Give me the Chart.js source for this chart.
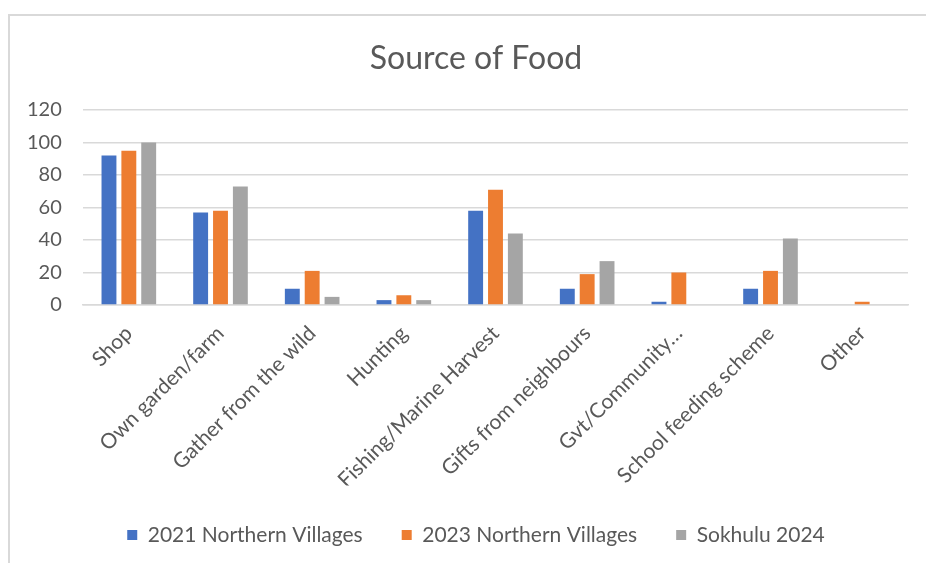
<!DOCTYPE html>
<html>
<head>
<meta charset="utf-8">
<script src="https://cdn.jsdelivr.net/npm/chart.js@4"></script>
<style>
  html, body { margin: 0; padding: 0; background: #fff; overflow: hidden; }
  #frame {
    position: absolute; left: 8px; top: 14px; width: 916px; height: 560px;
    border-left: 2px solid #d9d9d9; border-top: 2px solid #d9d9d9;
  }
  #myChart { display: block; }
</style>
</head>
<body>
<div id="frame"><canvas id="myChart" width="916" height="547"></canvas></div>
<script>
// categories and series
var categories = ["Shop", "Own garden/farm", "Gather from the wild", "Hunting",
    "Fishing/Marine Harvest", "Gifts from neighbours", "Gvt/Community\u2026",
    "School feeding scheme", "Other"];
var north2021 = [92, 57, 10, 3, 58, 10, 2, 10, 0];
var north2023 = [95, 58, 21, 6, 71, 19, 20, 21, 2];
var sokhulu2024 = [100, 73, 5, 3, 44, 27, 0, 41, 0];
var yTicks = [0, 20, 40, 60, 80, 100, 120];

var fontName = "Lato";
var textColor = "#595959";
var gridColor = "#d9d9d9";

Chart.defaults.font.family = fontName;
Chart.defaults.color = textColor;

// left padding only moves the centre of title and legend
var padLeft = 34;

var ctx = document.getElementById('myChart').getContext('2d');
var chart = new Chart(ctx, {
    type: 'bar',
    data: {
        labels: categories,
        datasets: [
            { label: "2021 Northern Villages", data: north2021, backgroundColor: '#4472C4' },
            { label: "2023 Northern Villages", data: north2023, backgroundColor: '#ED7D31' },
            { label: "Sokhulu 2024", data: sokhulu2024, backgroundColor: '#A5A5A5' }
        ]
    },
    options: {
        responsive: false,
        animation: false,
        categoryPercentage: 0.65,
        barPercentage: 0.75,
        layout: { padding: { left: padLeft, right: 18, top: 0, bottom: 7.5 } },
        plugins: {
            title: {
                display: true,
                text: "Source of Food",
                color: textColor,
                font: { size: 32, weight: 'normal', family: fontName },
                padding: { top: 23, bottom: 32.6 }
            },
            legend: {
                position: 'bottom',
                labels: {
                    boxWidth: 10, boxHeight: 10, padding: 39,
                    color: textColor,
                    font: { size: 21, family: fontName }
                }
            },
            tooltip: { enabled: false }
        },
        scales: {
            x: {
                grid: { display: false },
                border: { display: true, color: gridColor, width: 1.5 },
                ticks: {
                    autoSkip: false, maxRotation: 45, minRotation: 45,
                    padding: 8, color: textColor,
                    font: { size: 21, family: fontName }
                },
                afterFit: function (scale) { scale.height = 180.5; }
            },
            y: {
                min: 0, max: 120,
                afterBuildTicks: function (scale) {
                    scale.ticks = yTicks.map(function (v) { return { value: v }; });
                },
                grid: { color: gridColor, lineWidth: 1.5, drawTicks: false },
                border: { display: false },
                ticks: {
                    // mirrored labels pushed back out to the left so they are not clipped
                    mirror: true, crossAlign: 'far', padding: -56,
                    color: textColor,
                    font: { size: 20, family: fontName }
                },
                afterFit: function (scale) { scale.width = 73 - padLeft; }
            }
        }
    }
});
</script>
</body>
</html>
